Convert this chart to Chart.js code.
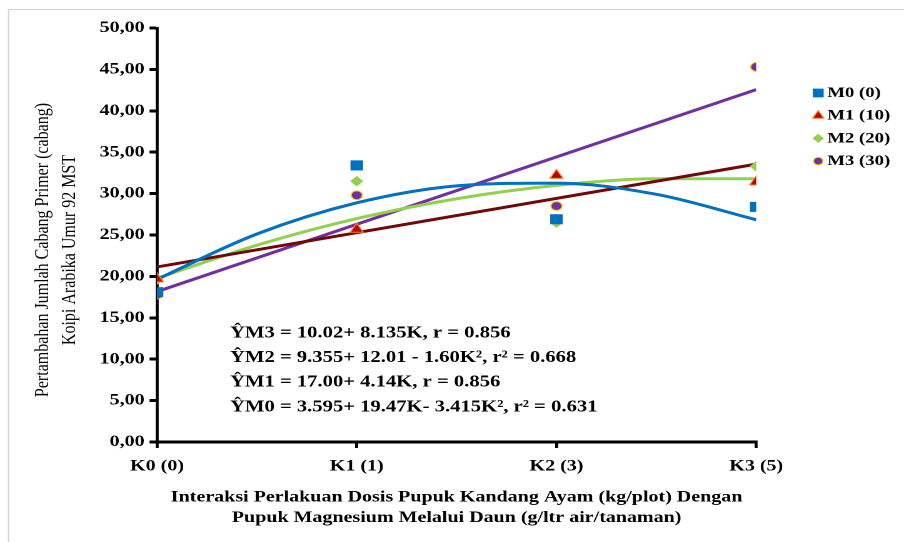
<!DOCTYPE html>
<html>
<head>
<meta charset="utf-8">
<script src="https://cdn.jsdelivr.net/npm/chart.js@4"></script>
<style>
  html, body { margin: 0; padding: 0; background: #fff; }
  #wrap { position: relative; width: 904px; height: 542px; overflow: hidden; }
</style>
</head>
<body>
<div id="wrap">
  <!-- the source figure is stretched sideways, so the chart is drawn 723 wide and shown at 904 -->
  <canvas id="chart" width="723" height="542" style="width:904px;height:542px;display:block"></canvas>
</div>
<script>
// categories on the x axis (position 1..4)
const categories = ['K0 (0)', 'K1 (1)', 'K2 (3)', 'K3 (5)'];
const seriesNames = ['M0 (0)', 'M1 (10)', 'M2 (20)', 'M3 (30)'];
const yTicks = [0, 5, 10, 15, 20, 25, 30, 35, 40, 45, 50];

// observed values
const m0 = [18.1, 33.4, 26.9, 28.4];
const m1 = [19.7, 25.7, 32.2, 31.4];
const m2 = [19.6, 31.5, 26.5, 33.3];
const m3 = [17.8, 29.8, 28.5, 45.3];

// trend line values read at K = 1, 1.5, ... 4 (from the printed equations)
const trendX = [1, 1.5, 2, 2.5, 3, 3.5, 4];
const trendM0 = [19.65, 25.12, 28.88, 30.93, 31.27, 29.91, 26.84];
const trendM2 = [19.77, 23.77, 26.98, 29.38, 30.99, 31.79, 31.80];
// linear trends, ends only
const trendLinX = [1, 4];
const trendM1 = [21.14, 33.56];
const trendM3 = [18.16, 42.56];

const equations = [
    'ŶM3 = 10.02+ 8.135K, r = 0.856',
    'ŶM2 = 9.355+ 12.01 - 1.60K², r² = 0.668',
    'ŶM1 = 17.00+ 4.14K, r = 0.856',
    'ŶM0 = 3.595+ 19.47K- 3.415K², r² = 0.631'
];
const yTitle = ['Pertambahan Jumlah Cabang Primer (cabang)', 'Koipi Arabika Umur 92 MST'];
const xTitle = ['Interaksi Perlakuan Dosis Pupuk Kandang Ayam (kg/plot) Dengan',
                'Pupuk Magnesium Melalui Daun (g/ltr air/tanaman)'];

const FONT = "'Liberation Serif', 'Times New Roman', serif";

const pts = (ys) => ys.map((y, i) => ({ x: i + 1, y }));
const line = (xs, ys) => xs.map((x, i) => ({ x, y: ys[i] }));

const styles = [
    { color: '#0070C0', point: 'rect', radius: 6.4, border: '#0070C0', line: '#0070C0' },
    { color: '#C00000', point: 'triangle', radius: 6, border: '#FF7F27', line: '#700808' },
    { color: '#92D050', point: 'rectRot', radius: 4.6, border: '#92D050', line: '#92D050' },
    { color: '#7030A0', point: 'circle', radius: 4.4, border: '#FFC000', line: '#7030A0' }
];

const obs = [m0, m1, m2, m3];
const trends = [line(trendX, trendM0), line(trendLinX, trendM1), line(trendX, trendM2), line(trendLinX, trendM3)];

const datasets = [];
trends.forEach((t, i) => {
    datasets.push({
        label: 'trend ' + seriesNames[i],
        data: t,
        showLine: true,
        borderColor: styles[i].line,
        borderWidth: 3,
        pointRadius: 0,
        cubicInterpolationMode: 'monotone',
        order: 2
    });
});
obs.forEach((d, i) => {
    datasets.push({
        label: seriesNames[i],
        data: pts(d),
        showLine: false,
        pointStyle: styles[i].point,
        pointRadius: styles[i].radius,
        backgroundColor: styles[i].color,
        borderColor: styles[i].border,
        pointBorderWidth: 1,
        order: 1
    });
});

// frame, y title, legend and the regression equations
const extras = {
    id: 'extras',
    beforeDraw(chart) {
        const ctx = chart.ctx;
        ctx.save();
        ctx.strokeStyle = '#d4d4d4';
        ctx.lineWidth = 1;
        ctx.beginPath();
        ctx.moveTo(6.8, 600);
        ctx.lineTo(6.8, 9.5);
        ctx.lineTo(800, 9.5);
        ctx.stroke();
        ctx.restore();
    },
    afterDraw(chart) {
        const ctx = chart.ctx;
        ctx.save();
        ctx.fillStyle = '#000';
        ctx.textBaseline = 'middle';

        // y axis title
        ctx.font = '16px ' + FONT;
        ctx.textAlign = 'center';
        yTitle.forEach((t, i) => {
            ctx.save();
            ctx.translate(34.4 + i * 21.6, 250);
            ctx.rotate(-Math.PI / 2);
            ctx.fillText(t, 0, 0);
            ctx.restore();
        });

        // legend
        ctx.textAlign = 'left';
        ctx.font = 'bold 15px ' + FONT;
        seriesNames.forEach((name, i) => {
            const y = 93 + i * 22.7;
            const s = styles[i];
            ctx.fillStyle = s.color;
            ctx.strokeStyle = s.border;
            ctx.lineWidth = 1;
            Chart.helpers.drawPoint(ctx, { pointStyle: s.point, radius: s.radius * 0.85, borderWidth: 1 }, 654.4, y);
            ctx.fillStyle = '#000';
            ctx.fillText(name, 661.6, y);
        });

        // regression equations
        ctx.font = 'bold 16.5px ' + FONT;
        equations.forEach((eq, i) => {
            ctx.fillText(eq, 184, 333 + i * 24.7);
        });
        ctx.restore();
    }
};

new Chart(document.getElementById('chart'), {
    type: 'scatter',
    data: { datasets },
    plugins: [extras],
    options: {
        responsive: false,
        animation: false,
        devicePixelRatio: 2,
        layout: { padding: { top: 28, right: 118.2, left: 0, bottom: 0 } },
        plugins: {
            legend: { display: false },
            tooltip: { enabled: false }
        },
        scales: {
            x: {
                type: 'linear',
                min: 1,
                max: 4,
                afterFit: (s) => { s.height = 100; },
                ticks: {
                    stepSize: 1,
                    color: '#000',
                    padding: 9,
                    font: { family: FONT, size: 16, weight: 'bold' },
                    callback: (v) => categories[v - 1] || ''
                },
                grid: { drawOnChartArea: false, drawTicks: true, tickLength: 6, color: '#000', lineWidth: 2.4 },
                border: { color: '#000', width: 3 },
                title: {
                    display: true,
                    text: xTitle,
                    color: '#000',
                    font: { family: FONT, size: 16, weight: 'bold', lineHeight: 1.3 },
                    padding: { top: 8, bottom: 13.6 }
                }
            },
            y: {
                min: 0,
                max: 50,
                afterFit: (s) => { s.width = 125.6; },
                afterBuildTicks: (s) => { s.ticks = yTicks.map((v) => ({ value: v })); },
                ticks: {
                    color: '#000',
                    padding: 4,
                    font: { family: FONT, size: 16, weight: 'bold' },
                    callback: (v) => v.toFixed(2).replace('.', ',')
                },
                grid: { drawOnChartArea: false, drawTicks: true, tickLength: 6, color: '#000', lineWidth: 3 },
                border: { color: '#000', width: 2.4 }
            }
        }
    }
});
</script>
</body>
</html>
